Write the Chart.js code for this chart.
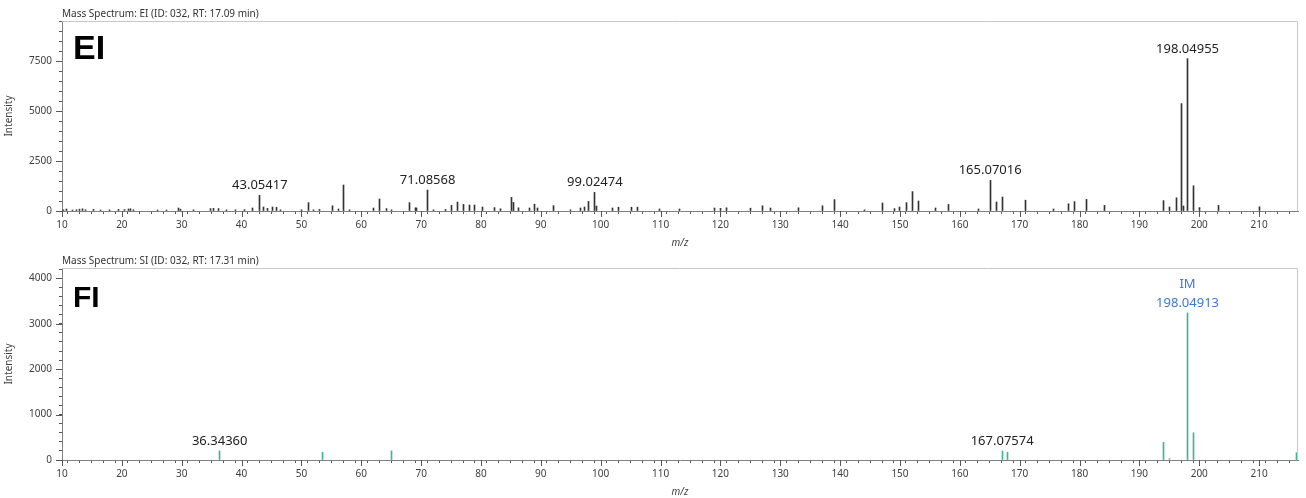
<!DOCTYPE html>
<html>
<head>
<meta charset="utf-8">
<script src="https://cdn.jsdelivr.net/npm/chart.js@4.4.1/dist/chart.umd.min.js"></script>
<style>
  html, body { margin: 0; padding: 0; background: #fff; }
  .panel { position: relative; width: 1306px; height: 249px; }
</style>
</head>
<body>
<div class="panel"><canvas id="ei"></canvas></div>
<div class="panel"><canvas id="fi"></canvas></div>
<script>
// ---------- DATA ----------
// EI spectrum (m/z, intensity)
const eiMz = [10.3,10.8,11.7,12.5,13.0,13.4,14.0,15.2,16.5,18.0,19.4,20.4,21.1,21.5,22.0,26.0,27.5,29.5,29.8,32.0,
  34.8,35.3,36.1,37.5,39.0,40.5,41.9,43.05417,43.7,44.4,45.1,45.8,46.5,50.0,51.1,52.0,53.0,55.2,56.2,57.0,58.0,
  62.0,63.1,64.2,65.0,68.0,69.1,69.3,71.08568,72.0,74.0,75.1,76.1,77.1,78.0,79.0,80.3,82.3,83.3,85.07,85.5,86.2,
  88.1,89.0,89.4,92.1,95.0,96.7,97.3,98.0,99.02474,99.3,102.0,102.9,105.1,106.1,109.8,113.2,119.0,120.0,121.1,
  125.1,127.1,128.4,133.1,137.1,139.05,144.0,147.0,149.1,149.9,151.1,152.1,153.1,155.9,158.1,163.1,165.07016,
  166.1,167.1,171.0,175.7,178.1,179.1,181.2,184.1,194.1,195.1,196.2,197.0,197.3,198.04955,199.1,200.1,203.2,210.0];
const eiInt = [60,100,50,60,90,110,60,80,50,60,80,70,100,110,60,50,50,150,90,60,
  120,130,120,60,60,70,150,780,200,130,200,180,60,60,420,60,80,260,100,1300,60,
  150,600,120,60,420,160,150,1050,60,80,280,450,330,300,300,200,170,110,680,430,160,
  150,340,150,270,60,150,200,480,930,250,150,190,190,190,100,100,150,130,160,
  140,260,150,160,260,570,60,400,120,200,420,970,500,150,330,100,1530,
  450,700,540,100,360,470,580,280,520,200,660,5370,250,7620,1260,170,280,210];
const eiLabelMz = [43.05417, 71.08568, 99.02474, 165.07016, 198.04955];
const eiLabelText = ['43.05417', '71.08568', '99.02474', '165.07016', '198.04955'];

// FI spectrum (m/z, intensity)
const fiMz = [36.3436, 53.45, 64.98, 167.07574, 168.0, 194.1, 195.1, 198.04913, 199.1, 216.2];
const fiInt = [200, 170, 200, 200, 170, 390, 40, 3240, 600, 160];
const fiLabelMz = [36.3436, 167.07574, 198.04913];
const fiLabelText = ['36.34360', '167.07574', '198.04913'];
const fiLabelTag = ['', '', 'IM'];

// axis settings
const xMin = 10, xMax = 216.5, xStep = 2, xMajor = 10;
const eiYMax = 9500, eiYStep = 500, eiYMajor = 2500;
const fiYMax = 4230, fiYStep = 200, fiYMajor = 1000;

// ---------- RENDER ----------
const FONT = '"Noto Sans", "Open Sans", sans-serif';
const isMult = (v, m) => Math.abs(v - Math.round(v / m) * m) < 1e-6;
const stepTicks = step => s => {
  const t = [];
  for (let i = 0; s.min + i * step <= s.max + 1e-9; i++) t.push({value: Math.round((s.min + i * step) * 1000) / 1000});
  s.ticks = t;
};

const decor = {
  id: 'decor',
  beforeDatasetsDraw(chart) {
    // snap 1px spikes onto whole pixels so they stay crisp
    chart.getDatasetMeta(0).data.forEach(el => { el.x = Math.floor(el.x) + 0.5; });
  },
  afterDraw(chart, args, o) {
    const {ctx, chartArea: a, scales: {x, y}} = chart;
    ctx.save();
    // light frame top/right
    ctx.strokeStyle = '#c8c8c8'; ctx.lineWidth = 1;
    ctx.beginPath();
    ctx.moveTo(a.left, a.top + 0.5); ctx.lineTo(a.right - 0.5, a.top + 0.5); ctx.lineTo(a.right - 0.5, a.bottom);
    ctx.stroke();
    // major tick extensions
    ctx.strokeStyle = '#555';
    ctx.beginPath();
    x.ticks.forEach(t => {
      if (isMult(t.value, xMajor)) {
        const px = Math.round(x.getPixelForValue(t.value)) + 0.5;
        ctx.moveTo(px, a.bottom); ctx.lineTo(px, a.bottom + 6);
      }
    });
    y.ticks.forEach(t => {
      if (isMult(t.value, o.yMajor)) {
        const py = Math.round(y.getPixelForValue(t.value)) + 0.5;
        ctx.moveTo(a.left - 6, py); ctx.lineTo(a.left, py);
      }
    });
    ctx.stroke();
    // panel title
    ctx.font = '10px ' + FONT; ctx.fillStyle = '#333';
    ctx.textAlign = 'left'; ctx.textBaseline = 'middle';
    ctx.fillText(o.title, a.left, a.top - 7);
    // big label
    ctx.font = 'bold ' + o.bigSize + 'px "Liberation Sans", Arial, sans-serif';
    ctx.fillStyle = '#000'; ctx.textBaseline = 'alphabetic';
    ctx.fillText(o.big, a.left + 11, a.top + o.bigOff);
    // peak labels
    ctx.font = '13px ' + FONT; ctx.textAlign = 'center';
    o.labelMz.forEach((mz, i) => {
      const idx = o.mz.indexOf(mz);
      const px = x.getPixelForValue(mz);
      const py = y.getPixelForValue(o.int[idx]) - 6;
      const tag = o.tags ? o.tags[i] : '';
      ctx.fillStyle = tag ? '#3a78d6' : '#222';
      ctx.fillText(o.labelText[i], px, py);
      if (tag) ctx.fillText(tag, px, py - 19);
    });
    ctx.restore();
  }
};

function makeChart(id, mz, inten, yMax, yStep, yMajor, color, padTop, title, big, bigSize, bigOff, labelMz, labelText, tags) {
  return new Chart(document.getElementById(id), {
    type: 'bar',
    data: {
      datasets: [{
        data: mz.map((m, i) => ({x: m, y: inten[i]})),
        backgroundColor: color,
        barThickness: 1,
        grouped: false
      }]
    },
    options: {
      responsive: true,
      maintainAspectRatio: false,
      animation: false,
      layout: {padding: {top: padTop, right: 8, left: 0, bottom: 0}},
      plugins: {
        legend: {display: false}, tooltip: {enabled: false},
        decor: {title, big, bigSize, bigOff, yMajor, mz, int: inten, labelMz, labelText, tags}
      },
      scales: {
        x: {
          type: 'linear', min: xMin, max: xMax, offset: false,
          afterBuildTicks: stepTicks(xStep),
          afterFit: s => { s.height = 38; },
          grid: {drawOnChartArea: false, drawTicks: true, tickLength: 3, tickColor: '#555'},
          border: {display: true, color: '#808080'},
          ticks: {
            autoSkip: false, maxRotation: 0, padding: 5,
            color: '#404040', font: {size: 10, family: FONT},
            callback: v => (isMult(v, xMajor) ? String(Math.round(v)) : '')
          },
          title: {display: true, text: 'm/z', color: '#404040', font: {size: 10, style: 'italic', family: FONT}, padding: {top: 0, bottom: 0}}
        },
        y: {
          type: 'linear', min: 0, max: yMax,
          afterBuildTicks: stepTicks(yStep),
          afterFit: s => { s.width = 62; },
          grid: {drawOnChartArea: false, drawTicks: true, tickLength: 3, tickColor: '#555'},
          border: {display: true, color: '#808080'},
          ticks: {
            autoSkip: false, padding: 7,
            color: '#404040', font: {size: 10, family: FONT},
            callback: v => (isMult(v, yMajor) ? String(Math.round(v)) : '')
          },
          title: {display: true, text: 'Intensity', color: '#404040', font: {size: 10, family: FONT}, padding: {top: 3, bottom: 0}}
        }
      }
    },
    plugins: [decor]
  });
}

makeChart('ei', eiMz, eiInt, eiYMax, eiYStep, eiYMajor, '#333333', 21,
  'Mass Spectrum: EI (ID: 032, RT: 17.09 min)', 'EI', 34, 38, eiLabelMz, eiLabelText, null);
makeChart('fi', fiMz, fiInt, fiYMax, fiYStep, fiYMajor,
  ctx => (ctx.raw && ctx.raw.y < 100 ? '#b0b0b0' : '#3db595'), 19,
  'Mass Spectrum: SI (ID: 032, RT: 17.31 min)', 'FI', 30, 39, fiLabelMz, fiLabelText, fiLabelTag);
</script>
</body>
</html>
